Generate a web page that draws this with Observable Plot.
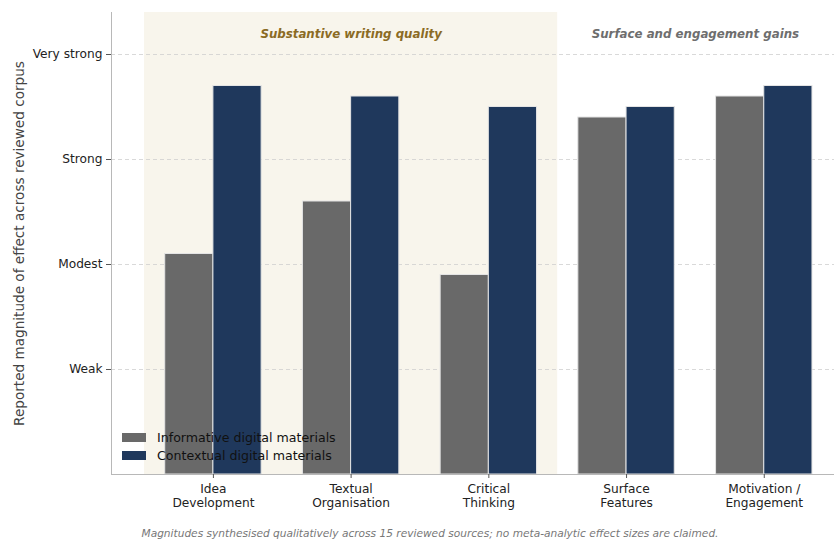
<!DOCTYPE html>
<html>
<head>
<meta charset="utf-8">
<script src="https://cdn.jsdelivr.net/npm/d3@7"></script>
<script src="https://cdn.jsdelivr.net/npm/@observablehq/plot@0.6"></script>
<style>
  html, body { margin: 0; padding: 0; background: #fff; }
  #wrap { position: relative; width: 834px; height: 541px; font-family: "DejaVu Sans", sans-serif; }
  #legend { position: absolute; left: 122px; top: 428px; font-size: 12.6px; color: #111; }
  #legend .row { display: flex; align-items: center; height: 18.5px; }
  #legend .sw { width: 24px; height: 9px; margin-right: 11px; }
  #caption { position: absolute; left: 0; width: 860px; top: 527px; text-align: center; font-size: 10.6px; font-style: italic; color: #777; }
</style>
</head>
<body>
<div id="wrap"></div>
<script>
// ---- data ----
const categories = ["Idea\nDevelopment", "Textual\nOrganisation", "Critical\nThinking", "Surface\nFeatures", "Motivation /\nEngagement"];
const seriesNames = ["Informative digital materials", "Contextual digital materials"];
const informative = [2.1, 2.6, 1.9, 3.4, 3.6];
const contextual = [3.7, 3.6, 3.5, 3.5, 3.7];
const levelValues = [1, 2, 3, 4];
const levelLabels = ["Weak", "Modest", "Strong", "Very strong"];
const groupNames = ["Substantive writing quality", "Surface and engagement gains"];
const groupFirst = [0, 3];
const groupLast = [2, 4];
const caption = "Magnitudes synthesised qualitatively across 15 reviewed sources; no meta-analytic effect sizes are claimed.";
const yLabel = "Reported magnitude of effect across reviewed corpus";

// ---- styles ----
const seriesColors = ["#696969", "#1f385c"];
const groupColors = ["#8b6b24", "#6e6e6e"];
const barWidth = 0.35;
const xDomain = [-0.74, 4.51];
const yDomain = [0, 4.4];

const bars = [];
categories.forEach((c, i) => {
  [informative, contextual].forEach((vals, s) => {
    const off = s === 0 ? -barWidth : 0;
    bars.push({i, series: seriesNames[s], x1: i + off, x2: i + off + barWidth, v: vals[i]});
  });
});
const groups = groupNames.map((n, g) => ({name: n, x1: groupFirst[g] - 0.5, x2: groupLast[g] + 0.5, cx: (groupFirst[g] + groupLast[g]) / 2, color: groupColors[g]}));

const chart = Plot.plot({
  width: 834,
  height: 522,
  marginLeft: 111,
  marginRight: 0,
  marginTop: 12,
  marginBottom: 48,
  style: {fontFamily: "DejaVu Sans, sans-serif", fontSize: "12px", background: "transparent"},
  x: {domain: xDomain},
  y: {domain: yDomain},
  color: {domain: seriesNames, range: seriesColors},
  marks: [
    Plot.rect(groups.slice(0, 1), {x1: "x1", x2: "x2", y1: yDomain[0], y2: yDomain[1], fill: "#f8f5ec"}),
    Plot.gridY(levelValues, {stroke: "#cfcfcf", strokeOpacity: 1, strokeDasharray: "4,3", strokeWidth: 0.8}),
    Plot.rectY(bars, {x1: "x1", x2: "x2", y: "v", fill: "series", stroke: "#e4e4e4", strokeWidth: 1}),
    Plot.text(groups, {x: "cx", frameAnchor: "top", dy: 17, text: "name", fill: "color", fontWeight: "bold", fontStyle: "italic", fontSize: 11.8}),
    Plot.ruleX([xDomain[0]], {stroke: "#b8b8b8", strokeWidth: 1}),
    Plot.ruleY([yDomain[0]], {stroke: "#b8b8b8", strokeWidth: 1}),
    Plot.axisY({ticks: levelValues, tickFormat: (d, k) => levelLabels[levelValues.indexOf(d)], tickSize: 5, tickPadding: 4, stroke: "#555", fill: "#222", fontSize: 12.2,
      label: yLabel, labelAnchor: "center", labelArrow: "none", labelOffset: 97}),
    Plot.axisX({ticks: d3.range(categories.length), tickFormat: d => categories[d], tickSize: 4, tickPadding: 4, stroke: "#555", fill: "#222", fontSize: 12.2, lineHeight: 1.16, label: null})
  ]
});
const wrap = document.getElementById("wrap");
wrap.appendChild(chart);
chart.querySelectorAll("[aria-label='y-axis label'] text").forEach(t => { t.setAttribute("fill", "#444"); t.style.fontSize = "13.6px"; });

const legend = document.createElement("div");
legend.id = "legend";
seriesNames.forEach((n, s) => {
  const row = document.createElement("div");
  row.className = "row";
  const sw = document.createElement("span");
  sw.className = "sw";
  sw.style.background = seriesColors[s];
  const lab = document.createElement("span");
  lab.textContent = n;
  row.appendChild(sw); row.appendChild(lab);
  legend.appendChild(row);
});
wrap.appendChild(legend);

const cap = document.createElement("div");
cap.id = "caption";
cap.textContent = caption;
wrap.appendChild(cap);
</script>
</body>
</html>
